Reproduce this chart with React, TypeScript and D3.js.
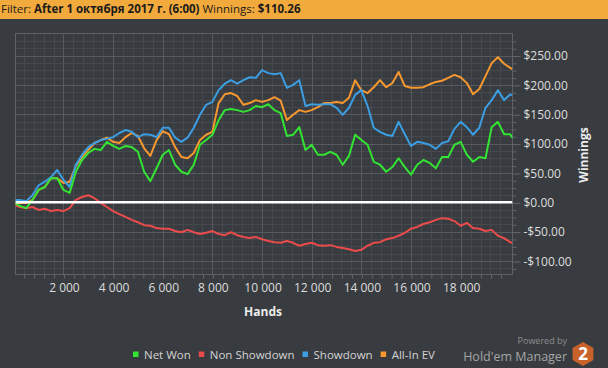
import { useEffect, useRef } from 'react';
import * as d3 from 'd3';

// hands played (x axis)
const hands = [
	0, 250, 500, 750, 1000, 1250, 1500, 1750, 2000, 2250,
	2500, 2750, 3000, 3250, 3500, 3750, 4000, 4250, 4500, 4750,
	5000, 5250, 5500, 5750, 6000, 6250, 6500, 6750, 7000, 7250,
	7500, 7750, 8000, 8250, 8500, 8750, 9000, 9250, 9500, 9750,
	10000, 10250, 10500, 10750, 11000, 11250, 11500, 11750, 12000, 12250,
	12500, 12750, 13000, 13250, 13500, 13750, 14000, 14250, 14500, 14750,
	15000, 15250, 15500, 15750, 16000, 16250, 16500, 16750, 17000, 17250,
	17500, 17750, 18000, 18250, 18500, 18750, 19000, 19250, 19500, 19750,
	20000, 20080,
];

const netWon = [
	-1, -6, -10, 4, 21, 26, 41, 41, 21, 16,
	52, 72, 84, 91, 89, 103, 96, 91, 96, 94,
	86, 52, 36, 58, 81, 89, 64, 52, 48, 64,
	98, 106, 115, 140, 157, 159, 157, 154, 157, 164,
	162, 167, 157, 152, 113, 115, 128, 89, 98, 81,
	81, 86, 81, 64, 79, 115, 106, 98, 69, 64,
	52, 60, 75, 60, 47, 64, 72, 67, 58, 77,
	77, 98, 103, 81, 69, 77, 75, 128, 137, 116,
	116, 110,
];

const nonShowdown = [
	-5, -8, -10, -8, -13, -11, -15, -13, -15, -10,
	4, 9, 12, 7, -1, -8, -15, -20, -25, -30,
	-34, -39, -40, -44, -45, -45, -49, -51, -47, -51,
	-54, -52, -49, -54, -56, -51, -56, -59, -61, -59,
	-63, -66, -68, -69, -66, -69, -74, -71, -69, -73,
	-74, -73, -76, -78, -80, -83, -81, -74, -69, -68,
	-63, -61, -57, -52, -45, -42, -37, -34, -30, -27,
	-28, -32, -40, -35, -44, -45, -49, -47, -57, -61,
	-68, -69,
];

const showdown = [
	4, 4, 2, 12, 29, 35, 43, 55, 38, 26,
	64, 81, 94, 101, 106, 108, 111, 118, 123, 120,
	111, 116, 115, 111, 127, 127, 110, 103, 110, 127,
	149, 166, 171, 191, 202, 208, 202, 208, 213, 212,
	225, 220, 218, 220, 195, 200, 208, 164, 167, 166,
	167, 167, 161, 149, 161, 183, 191, 164, 127, 120,
	115, 113, 137, 116, 96, 103, 101, 98, 91, 101,
	104, 125, 137, 128, 115, 127, 161, 174, 191, 174,
	184, 182,
];

const allInEV = [
	-1, -1, -1, 4, 21, 26, 41, 41, 33, 35,
	62, 77, 89, 101, 106, 110, 103, 101, 111, 118,
	113, 92, 79, 106, 121, 116, 94, 77, 75, 84,
	106, 115, 120, 169, 184, 186, 181, 166, 169, 174,
	171, 174, 179, 173, 140, 149, 157, 154, 157, 162,
	169, 169, 171, 169, 178, 208, 191, 186, 196, 208,
	196, 203, 222, 198, 195, 195, 196, 201, 205, 207,
	212, 217, 213, 203, 184, 193, 215, 237, 247, 236,
	229, 227,
];

const seriesNames = ['Net Won', 'Non Showdown', 'Showdown', 'All-In EV'];
const seriesColors = ['#33e433', '#ec4b4b', '#3b9de2', '#f7982f'];

const xMajorTicks = [2000, 4000, 6000, 8000, 10000, 12000, 14000, 16000, 18000];
const yMajorTicks = [-100, -50, 0, 50, 100, 150, 200, 250];

const FONT = '"Open Sans", "Noto Sans", sans-serif';
const BG = '#383b3f';

const App = () => {
	const ref = useRef<SVGSVGElement>(null);

	useEffect(() => {
		const W = 608,
			H = 368;
		const left = 15.5,
			right = 512.5,
			top = 33.5,
			bottom = 274.5;

		const svg = d3.select(ref.current);
		svg.selectAll('*').remove();

		svg.append('rect').attr('width', W).attr('height', H).attr('fill', BG);

		// Filter bar
		svg.append('rect').attr('width', W).attr('height', 19).attr('fill', '#f2aa3c');
		const hdr = svg
			.append('text')
			.attr('x', 1)
			.attr('y', 13)
			.attr('font-family', FONT)
			.attr('font-size', 11.5)
			.attr('fill', '#1b1b1b');
		hdr.append('tspan').text('Filter: ');
		hdr.append('tspan').attr('font-weight', 'bold').text('After 1 октября 2017 г. (6:00)');
		hdr.append('tspan').text(' Winnings: ');
		hdr.append('tspan').attr('font-weight', 'bold').text('$110.26');

		const x = d3.scaleLinear().domain([0, 20080]).range([13.8, 512.3]);
		const y = d3.scaleLinear().domain([-123, 287.5]).range([bottom, top]);
		const px = (v: number) => Math.round(v) + 0.5;

		// grid
		const xMinor = d3.range(400, 20080, 400).filter((h) => h % 2000 !== 0);
		const yMinor = d3.range(-112.5, 287.5, 12.5).filter((v) => v % 50 !== 0);
		const grid = svg.append('g');
		grid
			.selectAll('.vmin')
			.data(xMinor)
			.join('line')
			.attr('x1', (d) => px(x(d)))
			.attr('x2', (d) => px(x(d)))
			.attr('y1', top)
			.attr('y2', bottom)
			.attr('stroke', '#45494e');
		grid
			.selectAll('.hmin')
			.data(yMinor)
			.join('line')
			.attr('x1', left)
			.attr('x2', right)
			.attr('y1', (d) => px(y(d)))
			.attr('y2', (d) => px(y(d)))
			.attr('stroke', '#45494e');
		grid
			.selectAll('.vmaj')
			.data(xMajorTicks)
			.join('line')
			.attr('x1', (d) => px(x(d)))
			.attr('x2', (d) => px(x(d)))
			.attr('y1', top)
			.attr('y2', bottom)
			.attr('stroke', '#575b60');
		grid
			.selectAll('.hmaj')
			.data(yMajorTicks)
			.join('line')
			.attr('x1', left)
			.attr('x2', right)
			.attr('y1', (d) => px(y(d)))
			.attr('y2', (d) => px(y(d)))
			.attr('stroke', '#575b60');
		svg
			.append('rect')
			.attr('x', left)
			.attr('y', top)
			.attr('width', right - left)
			.attr('height', bottom - top)
			.attr('fill', 'none')
			.attr('stroke', '#5e6267');

		// axes
		const axisColor = '#63676c';
		const money = (v: number) => (v < 0 ? '-$' : '$') + Math.abs(v).toFixed(2);
		const num = d3.formatLocale({ decimal: ',', thousands: '\u00a0', grouping: [3], currency: ['', ''] }).format(',');

		const yMinorAxis = svg
			.append('g')
			.attr('transform', `translate(${right},0.5)`)
			.call(d3.axisRight(y).tickValues(yMinor).tickSize(4).tickFormat(() => ''));
		const yAxis = svg
			.append('g')
			.attr('transform', `translate(${right},0.5)`)
			.call(d3.axisRight(y).tickValues(yMajorTicks).tickSize(8).tickPadding(3).tickFormat((d) => money(+d)));
		const xMinorAxis = svg
			.append('g')
			.attr('transform', `translate(0.5,${bottom})`)
			.call(d3.axisBottom(x).tickValues(xMinor).tickSize(4).tickFormat(() => ''));
		const xAxis = svg
			.append('g')
			.attr('transform', `translate(0.5,${bottom})`)
			.call(d3.axisBottom(x).tickValues(xMajorTicks).tickSize(4).tickPadding(5).tickFormat((d) => num(+d)));
		[yMinorAxis, yAxis, xMinorAxis, xAxis].forEach((g) => {
			g.select('.domain').remove();
			g.selectAll('line').attr('stroke', axisColor);
			g.selectAll('text').attr('fill', '#dedede').attr('font-size', 12).attr('font-family', FONT);
		});

		svg
			.append('text')
			.attr('x', 263)
			.attr('y', 316)
			.attr('text-anchor', 'middle')
			.attr('font-family', FONT)
			.attr('font-weight', 'bold')
			.attr('font-size', 12)
			.attr('fill', '#ececec')
			.text('Hands');
		svg
			.append('text')
			.attr('transform', 'translate(588,155) rotate(-90)')
			.attr('text-anchor', 'middle')
			.attr('font-family', FONT)
			.attr('font-weight', 'bold')
			.attr('font-size', 12)
			.attr('fill', '#ececec')
			.text('Winnings');

		// series
		svg
			.append('clipPath')
			.attr('id', 'plot-clip')
			.append('rect')
			.attr('x', left)
			.attr('y', top)
			.attr('width', right - left)
			.attr('height', bottom - top);

		const line = d3
			.line<number>()
			.x((_, i) => x(hands[i]))
			.y((d) => y(d));
		const data = [netWon, nonShowdown, showdown, allInEV];
		const drawOrder = [3, 2, 1, 0];
		const plot = svg.append('g').attr('clip-path', 'url(#plot-clip)');
		drawOrder.forEach((k) => {
			plot
				.append('path')
				.attr('d', line(data[k]))
				.attr('fill', 'none')
				.attr('stroke', seriesColors[k])
				.attr('stroke-width', 2)
				.attr('stroke-linejoin', 'round');
		});
		plot
			.append('line')
			.attr('x1', left)
			.attr('x2', right)
			.attr('y1', y(0))
			.attr('y2', y(0))
			.attr('stroke', '#ffffff')
			.attr('stroke-width', 2.5);

		// legend
		let lx = 133;
		seriesNames.forEach((name, k) => {
			svg.append('rect').attr('x', lx).attr('y', 351.5).attr('width', 5.5).attr('height', 5.5).attr('fill', seriesColors[k]);
			const t = svg
				.append('text')
				.attr('x', lx + 11)
				.attr('y', 358.5)
				.attr('font-family', FONT)
				.attr('font-size', 11.5)
				.attr('fill', '#d4d4d4')
				.text(name);
			lx += 11 + (t.node() as SVGTextElement).getComputedTextLength() + 8;
		});

		// branding
		svg
			.append('text')
			.attr('x', 567)
			.attr('y', 343.5)
			.attr('text-anchor', 'end')
			.attr('font-family', FONT)
			.attr('font-size', 9)
			.attr('fill', '#8e8e8e')
			.text('Powered by');
		svg
			.append('text')
			.attr('x', 567)
			.attr('y', 360.5)
			.attr('text-anchor', 'end')
			.attr('font-family', FONT)
			.attr('font-size', 12.5)
			.attr('fill', '#a6a6a6')
			.text("Hold'em Manager");
		const cx = 583,
			cy = 354,
			r = 12;
		const hex = d3.range(6).map((k) => {
			const a = (Math.PI / 3) * k - Math.PI / 2;
			return [cx + r * Math.cos(a), cy + r * Math.sin(a)];
		});
		svg
			.append('polygon')
			.attr('points', hex.map((p) => p.join(',')).join(' '))
			.attr('fill', '#c8622a');
		svg
			.append('text')
			.attr('x', cx)
			.attr('y', cy + 6)
			.attr('text-anchor', 'middle')
			.attr('font-family', FONT)
			.attr('font-weight', 'bold')
			.attr('font-size', 17)
			.attr('fill', '#ffffff')
			.text('2');
	}, []);

	return (
		<svg
			ref={ref}
			width={608}
			height={368}
			style={{ position: 'absolute', left: 0, top: 0, display: 'block' }}
		></svg>
	);
};

export default App;
